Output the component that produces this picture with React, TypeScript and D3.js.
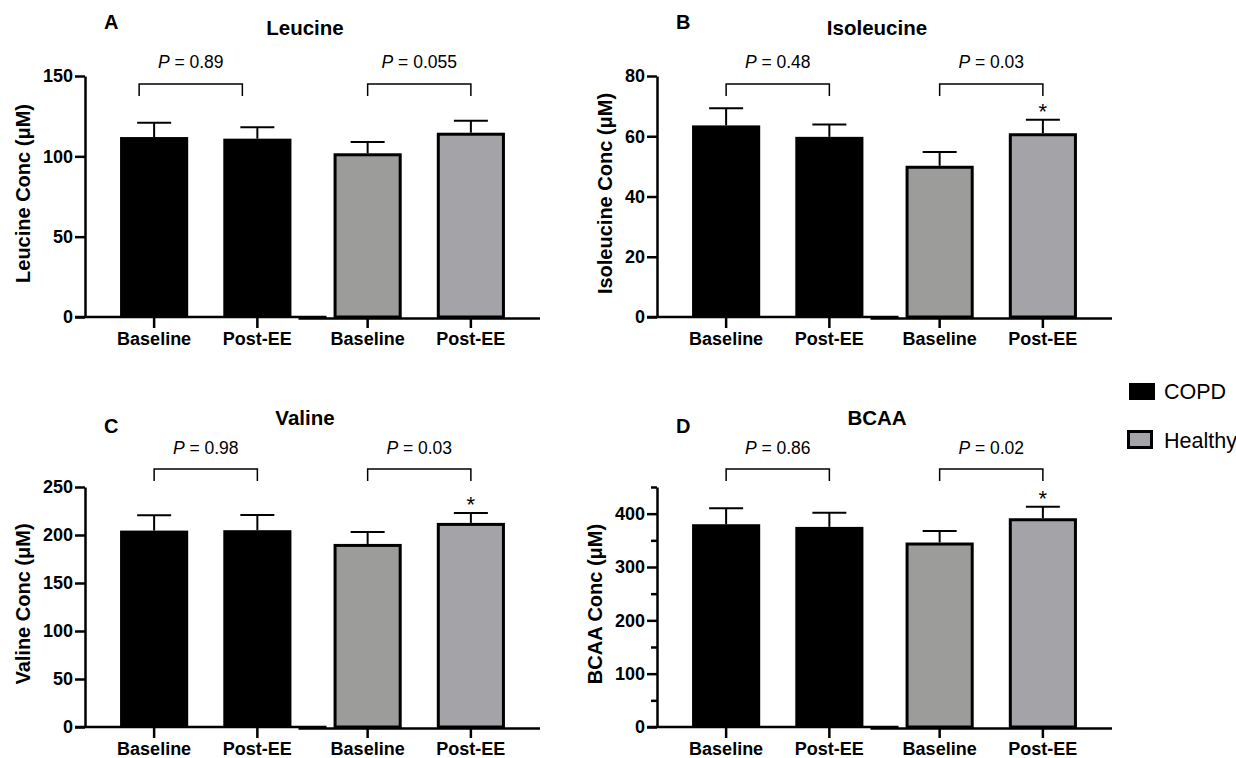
import React, { useEffect, useRef } from "react";
import * as d3 from "d3";

const FONT = "'Liberation Sans', Arial, Helvetica, sans-serif";

// Groups and time points
const groups = ["COPD", "Healthy"];
const timepoints = ["Baseline", "Post-EE"];

// Mean ± SEM per bar, order: COPD Baseline, COPD Post-EE, Healthy Baseline, Healthy Post-EE
const leucineMean = [112.0, 111.0, 101.9, 114.7];
const leucineSem = [8.9, 7.1, 7.0, 7.5];
const isoleucineMean = [63.6, 59.8, 50.2, 61.0];
const isoleucineSem = [5.7, 4.1, 4.6, 4.5];
const valineMean = [204.6, 205.0, 190.7, 212.6];
const valineSem = [15.9, 15.9, 12.5, 10.4];
const bcaaMean = [380.2, 375.2, 345.9, 391.4];
const bcaaSem = [29.8, 26.7, 21.8, 21.6];

// Paired comparison P values (COPD, Healthy)
const leucineP = ["0.89", "0.055"];
const isoleucineP = ["0.48", "0.03"];
const valineP = ["0.98", "0.03"];
const bcaaP = ["0.86", "0.02"];

// Bars flagged with an asterisk
const leucineStar = [false, false, false, false];
const isoleucineStar = [false, false, false, true];
const valineStar = [false, false, false, true];
const bcaaStar = [false, false, false, true];

// Axis ticks
const leucineTicks = [0, 50, 100, 150];
const isoleucineTicks = [0, 20, 40, 60, 80];
const valineTicks = [0, 50, 100, 150, 200, 250];
const bcaaTicks = [0, 100, 200, 300, 400];
const bcaaMinorTicks = [50, 150, 250, 350, 450];

const barFill = ["#000000", "#000000", "#9c9c9a", "#a4a3a8"];
const barStroked = [false, false, true, true];

const TICK_FONT = 18;

type PanelProps = {
  letter: string;
  title: string;
  yLabel: string;
  mean: number[];
  sem: number[];
  pValues: string[];
  stars: boolean[];
  ticks: number[];
  minorTicks?: number[];
  yMax: number;
  x0: number;
  yTop: number;
  y0: number;
  titleY: number;
  letterY: number;
  pY: number;
  bracketY: number;
  bracketShift: number[];
};

const PLOT_W = 455;

function Panel(p: PanelProps) {
  const yAxisRef = useRef<SVGGElement>(null);
  const yMinorRef = useRef<SVGGElement>(null);

  const y = d3.scaleLinear().domain([0, p.yMax]).range([p.y0, p.yTop]);
  const gx = d3
    .scaleBand<string>()
    .domain(groups)
    .range([p.x0, p.x0 + PLOT_W])
    .paddingInner(0.033)
    .paddingOuter(0.082);
  const inner = d3.scaleBand<string>().domain(timepoints).range([0, gx.bandwidth()]);
  const barW = inner.step() * 0.66;
  const centerOf = (i: number) => {
    const g = groups[Math.floor(i / 2)];
    const t = timepoints[i % 2];
    return (gx(g) as number) + (inner(t) as number) + inner.bandwidth() / 2;
  };

  useEffect(() => {
    if (yAxisRef.current) {
      const axis = d3
        .axisLeft(y)
        .tickValues(p.ticks)
        .tickSize(10)
        .tickSizeOuter(0)
        .tickPadding(2)
        .tickFormat(d3.format("d"));
      const g = d3.select(yAxisRef.current);
      g.call(axis as any);
      g.select(".domain").attr("stroke", "#000").attr("stroke-width", 2.5);
      g.selectAll(".tick line").attr("stroke", "#000").attr("stroke-width", 2.5);
      g.selectAll(".tick text")
        .attr("fill", "#000")
        .style("font-family", FONT)
        .style("font-size", TICK_FONT + "px")
        .style("font-weight", "bold");
    }
    if (yMinorRef.current && p.minorTicks) {
      const axis = d3
        .axisLeft(y)
        .tickValues(p.minorTicks)
        .tickSize(6)
        .tickSizeOuter(0)
        .tickFormat(() => "");
      const g = d3.select(yMinorRef.current);
      g.call(axis as any);
      g.select(".domain").remove();
      g.selectAll(".tick line").attr("stroke", "#000").attr("stroke-width", 2.5);
    }
  });

  const maxDigits = d3.max(p.ticks, (t) => String(t).length) as number;
  const yLabelX = p.x0 - 12 - maxDigits * 0.556 * TICK_FONT - 13;

  const gapMid = (centerOf(1) + centerOf(2)) / 2;

  return (
    <g>
      {/* panel letter and title */}
      <text x={p.x0 + 19} y={p.letterY} fontFamily={FONT} fontWeight="bold" fontSize={20}>
        {p.letter}
      </text>
      <text
        x={p.x0 + 220}
        y={p.titleY}
        textAnchor="middle"
        fontFamily={FONT}
        fontWeight="bold"
        fontSize={20.5}
      >
        {p.title}
      </text>

      {/* y axis title */}
      <text
        transform={`translate(${yLabelX},${(p.yTop + p.y0) / 2 - 3}) rotate(-90)`}
        textAnchor="middle"
        fontFamily={FONT}
        fontWeight="bold"
        fontSize={20}
      >
        {p.yLabel}
      </text>

      {/* bars */}
      {p.mean.map((m, i) => {
        const cx = centerOf(i);
        const top = y(m);
        const h = p.y0 - top;
        return barStroked[i] ? (
          <rect
            key={"b" + i}
            x={cx - barW / 2 + 1.5}
            y={top + 1.5}
            width={barW - 3}
            height={h - 1.5}
            fill={barFill[i]}
            stroke="#000"
            strokeWidth={3}
          />
        ) : (
          <rect key={"b" + i} x={cx - barW / 2} y={top} width={barW} height={h} fill={barFill[i]} />
        );
      })}

      {/* error bars (upper whisker) */}
      {p.mean.map((m, i) => {
        const cx = centerOf(i);
        const yt = y(m + p.sem[i]);
        return (
          <g key={"e" + i} stroke="#000" strokeWidth={2}>
            <line x1={cx} x2={cx} y1={y(m)} y2={yt} />
            <line x1={cx - 17} x2={cx + 17} y1={yt} y2={yt} />
          </g>
        );
      })}

      {/* significance asterisks */}
      {p.mean.map((m, i) =>
        p.stars[i] ? (
          <text
            key={"s" + i}
            x={centerOf(i)}
            y={y(m + p.sem[i]) - 1}
            textAnchor="middle"
            fontFamily={FONT}
            fontSize={22}
          >
            *
          </text>
        ) : null
      )}

      {/* x axis */}
      <line
        x1={p.x0 - 10}
        x2={gapMid + 14}
        y1={p.y0}
        y2={p.y0}
        stroke="#000"
        strokeWidth={2.5}
      />
      <line
        x1={gapMid - 14}
        x2={p.x0 + PLOT_W}
        y1={p.y0 + 1.5}
        y2={p.y0 + 1.5}
        stroke="#000"
        strokeWidth={2.5}
      />
      {p.mean.map((_, i) => (
        <g key={"t" + i}>
          <line
            x1={centerOf(i)}
            x2={centerOf(i)}
            y1={p.y0}
            y2={p.y0 + 11}
            stroke="#000"
            strokeWidth={2.5}
          />
          <text
            x={centerOf(i)}
            y={p.y0 + 28}
            textAnchor="middle"
            fontFamily={FONT}
            fontWeight="bold"
            fontSize={TICK_FONT}
          >
            {timepoints[i % 2]}
          </text>
        </g>
      ))}

      <g ref={yAxisRef} transform={`translate(${p.x0},0)`} />
      {p.minorTicks ? <g ref={yMinorRef} transform={`translate(${p.x0},0)`} /> : null}

      {/* comparison brackets */}
      {groups.map((g, gi) => {
        const xa = centerOf(gi * 2) + p.bracketShift[gi];
        const xb = centerOf(gi * 2 + 1) + p.bracketShift[gi];
        return (
          <g key={"br" + g}>
            <path
              d={`M${xa},${p.bracketY + 12}V${p.bracketY}H${xb}V${p.bracketY + 12}`}
              fill="none"
              stroke="#000"
              strokeWidth={1.5}
            />
            <text
              x={(xa + xb) / 2}
              y={p.pY}
              textAnchor="middle"
              fontFamily={FONT}
              fontSize={17.5}
            >
              <tspan fontStyle="italic">P</tspan>
              {" = " + p.pValues[gi]}
            </text>
          </g>
        );
      })}
    </g>
  );
}

export default function App() {
  const top = { yTop: 76, y0: 317, titleY: 35, letterY: 29, pY: 68, bracketY: 84 };
  const bottom = { yTop: 487, y0: 727, titleY: 425, letterY: 433, pY: 454, bracketY: 469 };
  return (
    <svg
      width={1236}
      height={758}
      style={{ position: "absolute", left: 0, top: 0, background: "#fff" }}
    >
      <rect width={1236} height={758} fill="#fff" />
      <Panel
        letter="A"
        title="Leucine"
        yLabel="Leucine Conc (μM)"
        mean={leucineMean}
        sem={leucineSem}
        pValues={leucineP}
        stars={leucineStar}
        ticks={leucineTicks}
        yMax={150}
        x0={85}
        bracketShift={[-15, 0]}
        {...top}
      />
      <Panel
        letter="B"
        title="Isoleucine"
        yLabel="Isoleucine Conc (μM)"
        mean={isoleucineMean}
        sem={isoleucineSem}
        pValues={isoleucineP}
        stars={isoleucineStar}
        ticks={isoleucineTicks}
        yMax={80}
        x0={657}
        bracketShift={[0, 0]}
        {...top}
      />
      <Panel
        letter="C"
        title="Valine"
        yLabel="Valine Conc (μM)"
        mean={valineMean}
        sem={valineSem}
        pValues={valineP}
        stars={valineStar}
        ticks={valineTicks}
        yMax={250}
        x0={85}
        bracketShift={[0, 0]}
        {...bottom}
      />
      <Panel
        letter="D"
        title="BCAA"
        yLabel="BCAA Conc (μM)"
        mean={bcaaMean}
        sem={bcaaSem}
        pValues={bcaaP}
        stars={bcaaStar}
        ticks={bcaaTicks}
        minorTicks={bcaaMinorTicks}
        yMax={450}
        x0={657}
        bracketShift={[0, 0]}
        {...bottom}
      />

      {/* legend */}
      <rect x={1129} y={383} width={26} height={17} fill="#000" />
      <text x={1164} y={399} fontFamily={FONT} fontSize={21.5}>
        COPD
      </text>
      <rect
        x={1128.5}
        y={431.5}
        width={23}
        height={16}
        fill="#a4a3a8"
        stroke="#000"
        strokeWidth={3}
      />
      <text x={1164} y={448} fontFamily={FONT} fontSize={21.5}>
        Healthy
      </text>
    </svg>
  );
}
